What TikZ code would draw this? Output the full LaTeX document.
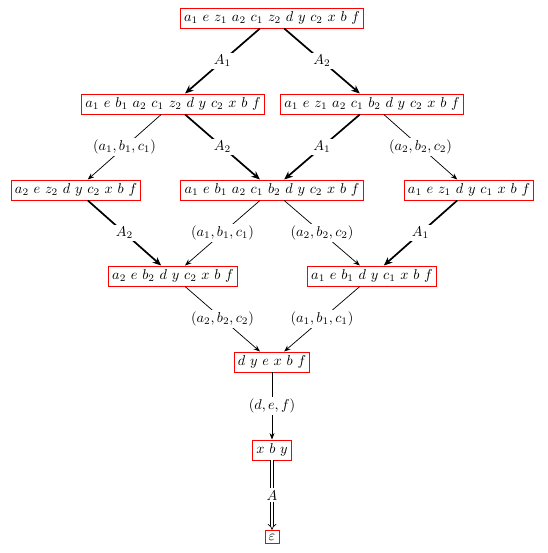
\documentclass[tikz,border=0pt]{standalone}
\usetikzlibrary{arrows.meta}
\begin{document}
\begin{tikzpicture}[x=0.7pt,y=-0.7pt,
  word/.style={draw=red, line width=0.6pt, inner sep=2.6pt},
  lbl/.style={midway, fill=white, inner sep=1.5pt},
  big/.style={line width=1.2pt, -{Stealth[length=6pt,width=5pt]}},
  small/.style={line width=0.5pt, -{Stealth[length=4.5pt,width=3.5pt]}},
  dbl/.style={double, double distance=1.6pt, line width=0.5pt, -{Implies}}]
\useasboundingbox (0,0) rectangle (547,553);
\node[word] (t) at (272,18) {$a_1~e~z_1~a_2~c_1~z_2~d~y~c_2~x~b~f$};
\node[word] (l2) at (173,104) {$a_1~e~b_1~a_2~c_1~z_2~d~y~c_2~x~b~f$};
\node[word] (r2) at (372,104) {$a_1~e~z_1~a_2~c_1~b_2~d~y~c_2~x~b~f$};
\node[word] (l3) at (76,190) {$a_2~e~z_2~d~y~c_2~x~b~f$};
\node[word] (m3) at (272,190) {$a_1~e~b_1~a_2~c_1~b_2~d~y~c_2~x~b~f$};
\node[word] (r3) at (469,190) {$a_1~e~z_1~d~y~c_1~x~b~f$};
\node[word] (l4) at (173,276) {$a_2~e~b_2~d~y~c_2~x~b~f$};
\node[word] (r4) at (372,276) {$a_1~e~b_1~d~y~c_1~x~b~f$};
\node[word] (m5) at (272,362) {$d~y~e~x~b~f$};
\node[word] (m6) at (272,450) {$x~b~y$};
\node[word] (m7) at (272,537) {$\varepsilon$};
\draw[big] (t) -- node[lbl] {$A_1$} (l2);
\draw[big] (t) -- node[lbl] {$A_2$} (r2);
\draw[small] (l2) -- node[lbl] {$(a_1,b_1,c_1)$} (l3);
\draw[big] (l2) -- node[lbl] {$A_2$} (m3);
\draw[big] (r2) -- node[lbl] {$A_1$} (m3);
\draw[small] (r2) -- node[lbl] {$(a_2,b_2,c_2)$} (r3);
\draw[big] (l3) -- node[lbl] {$A_2$} (l4);
\draw[small] (m3) -- node[lbl] {$(a_1,b_1,c_1)$} (l4);
\draw[small] (m3) -- node[lbl] {$(a_2,b_2,c_2)$} (r4);
\draw[big] (r3) -- node[lbl] {$A_1$} (r4);
\draw[small] (l4) -- node[lbl] {$(a_2,b_2,c_2)$} (m5);
\draw[small] (r4) -- node[lbl] {$(a_1,b_1,c_1)$} (m5);
\draw[small] (m5) -- node[lbl] {$(d,e,f)$} (m6);
\draw[dbl] (m6) -- node[lbl] {$A$} (m7);
\end{tikzpicture}
\end{document}
